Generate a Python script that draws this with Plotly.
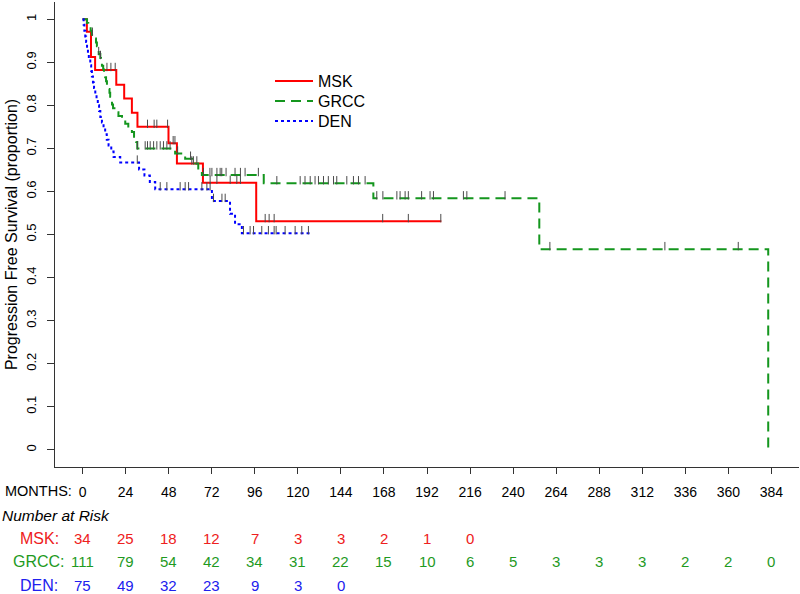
import numpy as np
import plotly.graph_objects as go

# ---------------- data ----------------
groups = ["MSK", "GRCC", "DEN"]

msk_event_t = [2.4, 4.7, 7.0, 18.8, 23.2, 27.5, 30.6, 47.9, 52.6, 67.1, 96.8]
msk_event_s = [0.971, 0.912, 0.882, 0.848, 0.816, 0.783, 0.750, 0.712, 0.665, 0.620, 0.531]
msk_end = 200.0
msk_censor = [13.6, 15.8, 18.2, 36.2, 39.9, 41.4, 47.4, 50.5, 51.5, 60.9, 63.7, 71.1,
              74.9, 82.3, 86.0, 88.0, 101.8, 104.0, 106.8, 167.3, 181.6, 199.7]

grcc_event_t = [2.5, 3.2, 4.5, 5.2, 6.5, 7.5, 8.0, 8.4, 9.0, 9.9, 10.3, 10.8, 11.5, 12.0,
                12.6, 13.1, 13.6, 14.3, 15.0, 15.4, 15.9, 16.4, 17.0, 18.5, 20.0, 22.0,
                23.8, 25.5, 27.5, 28.7, 29.9, 30.5, 51.6, 57.2, 61.0, 64.5, 66.5,
                101.0, 162.1, 254.6, 382.2]
grcc_event_s = [0.991, 0.982, 0.973, 0.964, 0.955, 0.946, 0.937, 0.928, 0.919, 0.910,
                0.901, 0.892, 0.883, 0.874, 0.865, 0.856, 0.847, 0.838, 0.829, 0.820,
                0.811, 0.802, 0.793, 0.784, 0.775, 0.766, 0.757, 0.748, 0.738, 0.727,
                0.715, 0.700, 0.688, 0.676, 0.665, 0.650, 0.638,
                0.619, 0.584, 0.466, 0.0]
grcc_end = 382.2
grcc_censor = [5.5, 9.0, 10.0, 30.6, 34.9, 36.2, 37.7, 39.6, 41.4, 43.3, 45.1, 47.0, 48.8,
               53.0, 60.2, 61.8, 67.4, 71.0, 72.1, 74.9, 76.7, 77.6, 80.0, 85.0, 88.0,
               90.6, 98.0, 108.3, 121.3, 124.0, 126.9, 129.6, 131.5, 134.3, 137.0, 139.9,
               141.7, 147.3, 151.0, 153.8, 157.5, 164.0, 167.4, 175.2, 177.0, 179.8,
               181.6, 189.0, 193.7, 195.6, 212.3, 214.2, 235.5, 260.5, 324.6, 365.5]

den_event_t = [0.6, 1.0, 1.5, 2.0, 2.5, 3.0, 3.5, 4.3, 4.8, 5.2, 5.8, 6.4, 7.1, 7.8, 8.5,
               9.2, 9.9, 10.8, 11.7, 12.6, 13.5, 14.5, 16.0, 17.3, 21.0, 31.5, 34.5,
               37.5, 40.5, 72.1, 82.2, 85.0, 88.8]
den_event_s = [0.987, 0.973, 0.960, 0.947, 0.933, 0.920, 0.907, 0.893, 0.880, 0.867,
               0.853, 0.840, 0.827, 0.813, 0.800, 0.787, 0.773, 0.760, 0.747, 0.733,
               0.720, 0.707, 0.693, 0.680, 0.667, 0.651, 0.637, 0.622, 0.605, 0.578,
               0.548, 0.524, 0.503]
den_end = 126.9
den_censor = [30.5, 43.3, 47.0, 54.4, 57.2, 59.1, 66.5, 69.3, 71.1, 73.0, 77.7, 79.5,
              89.7, 93.4, 95.3, 99.9, 103.6, 106.8, 107.9, 112.9, 118.5, 122.2, 125.9]

risk_months = [0, 24, 48, 72, 96, 120, 144, 168, 192, 216, 240, 264, 288, 312, 336, 360, 384]
msk_risk = [34, 25, 18, 12, 7, 3, 3, 2, 1, 0]
grcc_risk = [111, 79, 54, 42, 34, 31, 22, 15, 10, 6, 5, 3, 3, 3, 2, 2, 0]
den_risk = [75, 49, 32, 23, 9, 3, 0]

y_ticks = [0, 0.1, 0.2, 0.3, 0.4, 0.5, 0.6, 0.7, 0.8, 0.9, 1]
y_tick_text = ["0", "0.1", "0.2", "0.3", "0.4", "0.5", "0.6", "0.7", "0.8", "0.9", "1"]

# ---------------- styling ----------------
colors = {"MSK": "#ff0000", "GRCC": "#14961e", "DEN": "#0000ff"}
text_colors = {"MSK": "#ee2020", "GRCC": "#1f9a1f", "DEN": "#2020ee"}
dashes = {"MSK": "solid", "GRCC": "10px,6px", "DEN": "3px,3px"}
legend_ids = {"MSK": "legend", "GRCC": "legend2", "DEN": "legend3"}
legend_row_py = {"MSK": 81, "GRCC": 101, "DEN": 121}
FONT = "Liberation Sans, Arial, sans-serif"

W, H = 800, 594
ML, MR, MT, MB = 55, 1, 2, 127
PW, PH = W - ML - MR, H - MT - MB


def px_x(px):
    return (px - ML) / PW


def px_y(py):
    return (H - MB - py) / PH


data = {
    "MSK": (msk_event_t, msk_event_s, msk_end, msk_censor, msk_risk),
    "GRCC": (grcc_event_t, grcc_event_s, grcc_end, grcc_censor, grcc_risk),
    "DEN": (den_event_t, den_event_s, den_end, den_censor, den_risk),
}

fig = go.Figure()


def surv_at(ts, ss, t):
    ts = np.asarray(ts)
    ss = np.asarray(ss)
    idx = np.searchsorted(ts, t, side="right") - 1
    return np.where(idx >= 0, ss[np.clip(idx, 0, None)], 1.0)


for g in groups:
    ts, ss, end, cens, _ = data[g]
    x = [0.0] + list(ts)
    y = [1.0] + list(ss)
    if end > x[-1]:
        x.append(end)
        y.append(y[-1])
    fig.add_trace(go.Scatter(x=x, y=y, mode="lines", name=g, line_shape="hv",
                             legend=legend_ids[g],
                             line=dict(color=colors[g], width=2, dash=dashes[g])))

for g in groups:
    ts, ss, end, cens, _ = data[g]
    cy = surv_at(ts, ss, np.asarray(cens)) + 0.007
    fig.add_trace(go.Scatter(x=cens, y=cy, mode="markers", showlegend=False,
                             hoverinfo="skip",
                             marker=dict(symbol="line-ns", size=6,
                                         line=dict(color="#4a4a4a", width=1))))

annotations = []
annotations.append(dict(text="MONTHS:", xref="paper", yref="paper", x=px_x(3), y=px_y(491),
                        xanchor="left", yanchor="middle", showarrow=False,
                        font=dict(family=FONT, size=14.5, color="#000")))
annotations.append(dict(text="<i>Number at Risk</i>", xref="paper", yref="paper",
                        x=px_x(0), y=px_y(515), xanchor="left", yanchor="middle",
                        showarrow=False, font=dict(family=FONT, size=15.5, color="#000")))
row_py = {"MSK": 538, "GRCC": 561, "DEN": 585}
for g in groups:
    risk = data[g][4]
    annotations.append(dict(text=g + ":", xref="paper", yref="paper", x=px_x(39),
                            y=px_y(row_py[g]), xanchor="center", yanchor="middle",
                            showarrow=False,
                            font=dict(family=FONT, size=16, color=text_colors[g])))
    for m, n in zip(risk_months, risk):
        annotations.append(dict(text=str(n), xref="x", yref="paper", x=m,
                                y=px_y(row_py[g]), xanchor="center", yanchor="middle",
                                showarrow=False,
                                font=dict(family=FONT, size=15, color=text_colors[g])))

legend_layout = {}
for g in groups:
    legend_layout[legend_ids[g]] = dict(
        x=px_x(270), y=px_y(legend_row_py[g]), xanchor="left", yanchor="middle",
        bgcolor="rgba(0,0,0,0)", font=dict(family=FONT, size=16, color="#000"),
        itemwidth=38)

fig.update_layout(
    width=W, height=H,
    margin=dict(l=ML, r=MR, t=MT, b=MB, autoexpand=False),
    paper_bgcolor="white", plot_bgcolor="white",
    font=dict(family=FONT, size=14, color="#000"),
    showlegend=True,
    annotations=annotations,
    **legend_layout,
)
fig.update_xaxes(range=[-15.36, 399.36], tickvals=risk_months,
                 ticktext=[str(m) for m in risk_months],
                 showline=True, linecolor="#333", linewidth=1, mirror=False,
                 ticks="outside", ticklen=6, tickcolor="#333", showgrid=False,
                 zeroline=False, ticklabelstandoff=6,
                 tickfont=dict(family=FONT, size=14, color="#000"))
fig.update_yaxes(range=[-0.04, 1.04], tickvals=y_ticks, ticktext=y_tick_text,
                 showline=True, linecolor="#333", linewidth=1, mirror=False,
                 ticks="outside", ticklen=7, tickcolor="#333", showgrid=False,
                 zeroline=False, tickangle=-90, ticklabelstandoff=6,
                 tickfont=dict(family=FONT, size=13, color="#000"),
                 title=dict(text="Progression Free Survival (proportion)", standoff=2,
                            font=dict(family=FONT, size=16, color="#000")))

fig.write_html("out.html", config={"displayModeBar": False},
               post_script="document.body.style.margin='0px';document.body.style.overflow='hidden';")
